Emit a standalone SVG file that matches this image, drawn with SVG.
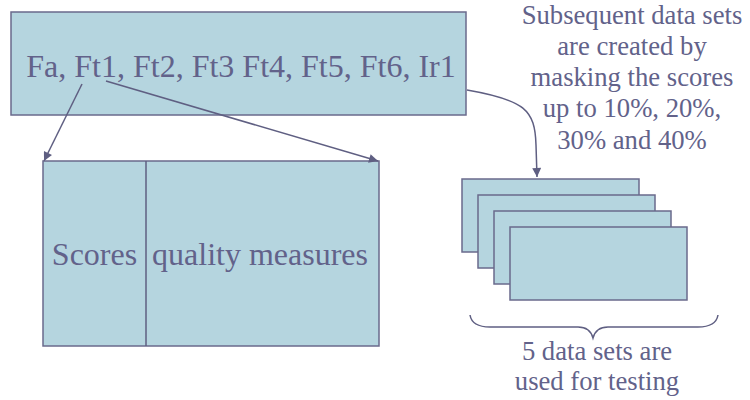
<svg xmlns="http://www.w3.org/2000/svg" width="750" height="400" viewBox="0 0 750 400">
<defs>
<style>
.box{fill:#b5d5df;stroke:#6a6a8c;stroke-width:1.5}
.ln{fill:none;stroke:#5f5f82;stroke-width:1.5}
.t{font-family:"Liberation Serif","Times New Roman",serif;fill:#62628a}
</style>
<marker id="ah" viewBox="0 0 10 10" refX="10" refY="5" markerWidth="11" markerHeight="9" markerUnits="userSpaceOnUse" orient="auto">
<path d="M0,0 L10,5 L0,10 z" fill="#5f5f82"/>
</marker>
</defs>
<rect width="750" height="400" fill="#ffffff"/>
<g id="top">
<rect class="box" x="11" y="12" width="455" height="103"/>
<text class="t" x="241" y="77" font-size="32" text-anchor="middle">Fa, Ft1, Ft2, Ft3 Ft4, Ft5, Ft6, Ir1</text>
</g>
<g id="table">
<rect class="box" x="43" y="161" width="336" height="185"/>
<line class="ln" x1="146" y1="161" x2="146" y2="346"/>
<text class="t" x="94.5" y="265" font-size="32" text-anchor="middle">Scores</text>
<text class="t" x="260" y="265" font-size="32" text-anchor="middle">quality measures</text>
</g>
<g id="stack">
<rect class="box" x="462" y="179" width="177" height="73"/>
<rect class="box" x="478" y="195" width="177" height="73"/>
<rect class="box" x="494" y="211" width="177" height="73"/>
<rect class="box" x="510" y="227" width="177" height="73"/>
</g>
<g id="note">
<text class="t" font-size="26.67" text-anchor="middle"><tspan x="632" y="24">Subsequent data sets</tspan><tspan x="632" y="55">are created by</tspan><tspan x="632" y="86">masking the scores</tspan><tspan x="632" y="117">up to 10%, 20%,</tspan><tspan x="632" y="149">30% and 40%</tspan></text>
</g>
<g id="brace">
<path class="ln" d="M470,315 Q472,327 490,327 L578,327 Q590,327 593,338 Q596,327 608,327 L698,327 Q716,327 718,315"/>
<text class="t" font-size="26.67" text-anchor="middle"><tspan x="597" y="360">5 data sets are</tspan><tspan x="597" y="390">used for testing</tspan></text>
</g>
<g id="connectors">
<line class="ln" x1="82" y1="84" x2="44" y2="161" marker-end="url(#ah)"/>
<line class="ln" x1="106" y1="81" x2="378" y2="161" marker-end="url(#ah)"/>
<path class="ln" d="M467,90 C525,100 535,110 536,145 L537,177" marker-end="url(#ah)"/>
</g>
</svg>
